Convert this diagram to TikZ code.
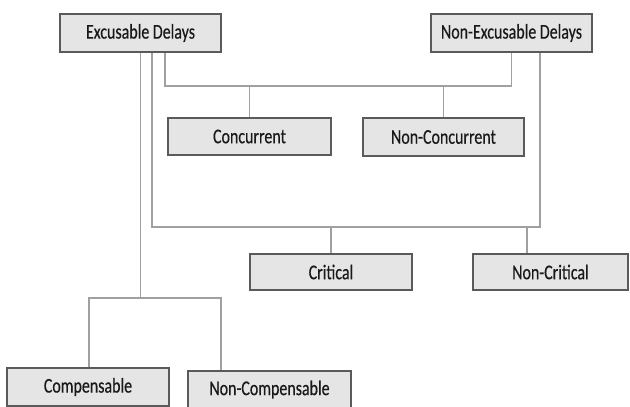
\documentclass[tikz,border=0pt]{standalone}
\usepackage{fontspec}
\newfontfamily\boxfont[FakeStretch=0.76,FakeBold=0.4]{Carlito}
\definecolor{boxfill}{HTML}{E5E5E5}
\definecolor{boxline}{HTML}{5A5A5A}
\definecolor{wire}{HTML}{A0A0A0}
\begin{document}
\begin{tikzpicture}[x=1pt,y=-1pt,
  cat/.style={draw=boxline,line width=1.3pt,fill=boxfill,inner sep=0pt,
    minimum width=161pt,minimum height=38pt,font=\boxfont\fontsize{21}{24}\selectfont,text=black!90},
  link/.style={draw=wire,line width=1.1pt}]
\useasboundingbox (0,0) rectangle (630,407);
\node[cat] (exc) at (140.5,33) {Excusable Delays};
\node[cat] (nexc) at (511.5,33) {Non-Excusable Delays};
\node[cat,minimum width=163pt,minimum height=37pt] (conc) at (249.5,136.5) {Concurrent};
\node[cat] (nconc) at (443.5,137) {Non-Concurrent};
\node[cat,minimum width=162pt,minimum height=36pt] (crit) at (331,272) {Critical};
\node[cat,minimum width=155pt,minimum height=36pt] (ncrit) at (550.5,272) {Non-Critical};
\node[cat,minimum width=162pt] (comp) at (88,387) {Compensable};
\node[cat,minimum width=163pt,minimum height=37pt] (ncomp) at (269.5,389.5) {Non-Compensable};
\coordinate (cy) at (0,86);
\coordinate (ky) at (0,227);
\coordinate (py) at (0,298);
% concurrent branch
\draw[link] ([xshift=24.5pt]exc.south) |- (nexc.south |- cy) -- (nexc.south);
\draw[link] (conc.north) -- (conc.north |- cy);
\draw[link] (nconc.north) -- (nconc.north |- cy);
% critical branch
\draw[link] ([xshift=11.5pt]exc.south) |- ([xshift=28.5pt]nexc.south |- ky) -- ([xshift=28.5pt]nexc.south);
\draw[link] (crit.north) -- (crit.north |- ky);
\draw[link] ([xshift=-23.5pt]ncrit.north) -- ([xshift=-23.5pt]ncrit.north |- ky);
% compensable branch
\draw[link] (exc.south) -- (exc.south |- py);
\draw[link] ([xshift=1pt]comp.north) |- ([xshift=-48.5pt]ncomp.north |- py) -- ([xshift=-48.5pt]ncomp.north);
\end{tikzpicture}
\end{document}
